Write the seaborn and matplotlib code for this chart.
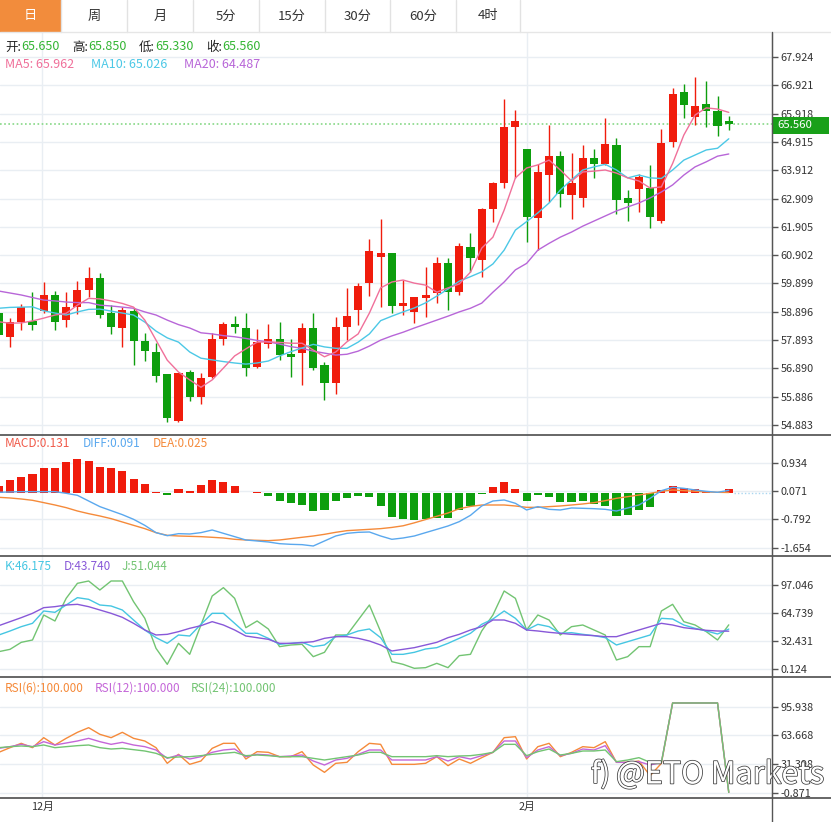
import numpy as np
import pandas as pd
import matplotlib.pyplot as plt
import matplotlib.patheffects as pe
from matplotlib.patches import Rectangle
import seaborn as sns

sns.set_style("white")
plt.rcParams['font.family'] = ['Noto Sans CJK SC', 'DejaVu Sans']

# ---- daily candles, oldest first (last one is the live bar) ----
opens = [58.85, 57.99, 58.54, 58.57, 58.92, 59.49, 58.60, 59.05, 59.67, 60.10,
         58.84, 58.33, 58.92, 57.87, 57.48, 56.68, 55.03, 56.75, 55.88, 56.59,
         57.92, 58.46, 58.33, 56.95, 57.75, 57.92, 57.39, 57.42, 58.33, 57.01,
         56.38, 58.34, 58.96, 59.90, 60.83, 60.97, 59.11, 58.90, 59.39, 59.55,
         60.63, 59.61, 61.18, 60.73, 62.53, 63.45, 65.43, 64.66, 62.21, 63.74,
         64.41, 63.03, 62.94, 64.35, 64.13, 64.81, 62.92, 63.23, 63.27, 62.12,
         64.90, 66.67, 65.81, 66.26, 66.01, 65.65]
highs = [58.90, 58.68, 59.16, 59.61, 59.94, 59.64, 59.61, 59.99, 60.49, 60.28,
         59.13, 59.05, 59.02, 58.15, 57.78, 56.70, 56.73, 56.83, 56.71, 58.13,
         58.54, 58.74, 58.86, 58.27, 58.46, 58.54, 57.92, 58.49, 58.86, 57.13,
         58.72, 59.73, 59.90, 61.46, 62.17, 60.99, 60.02, 59.43, 60.47, 60.85,
         60.79, 61.32, 61.68, 62.58, 63.50, 66.42, 66.05, 64.68, 64.12, 65.51,
         64.60, 64.51, 64.81, 64.66, 65.75, 65.04, 63.21, 63.78, 64.10, 65.36,
         66.81, 66.96, 67.20, 67.08, 66.54, 65.85]
lows = [58.00, 57.66, 58.25, 58.25, 58.84, 58.25, 58.34, 58.80, 59.43, 58.66,
        58.11, 57.66, 57.01, 57.15, 56.39, 54.98, 54.98, 55.73, 55.62, 56.55,
        57.72, 58.13, 56.63, 56.89, 57.60, 57.19, 56.59, 56.30, 56.83, 55.77,
        55.97, 57.89, 58.43, 59.45, 59.07, 58.84, 58.78, 58.49, 58.71, 59.19,
        58.96, 59.49, 60.31, 60.14, 62.09, 63.27, 63.63, 61.38, 61.08, 62.80,
        62.62, 62.17, 62.60, 63.63, 64.10, 62.36, 62.12, 62.44, 61.85, 62.03,
        64.72, 65.75, 65.51, 65.45, 65.12, 65.33]
closes = [58.07, 58.52, 59.05, 58.43, 59.49, 58.54, 59.07, 59.67, 60.10, 58.78,
          58.34, 58.96, 57.87, 57.50, 56.63, 55.12, 56.71, 55.88, 56.54, 57.92,
          58.46, 58.37, 56.89, 57.83, 57.92, 57.36, 57.30, 58.33, 56.89, 56.36,
          58.37, 58.74, 59.82, 61.06, 60.97, 59.11, 59.19, 59.41, 59.49, 60.63,
          59.61, 61.24, 60.79, 62.53, 63.45, 65.45, 65.67, 62.26, 63.84, 64.41,
          63.07, 63.45, 64.35, 64.13, 64.83, 62.86, 62.74, 63.68, 62.24, 64.89,
          66.60, 66.22, 66.20, 66.01, 65.48, 65.56]

ma5 = [58.54, 58.49, 58.50, 58.57, 58.67, 58.78, 58.84, 59.13, 59.37, 59.35,
       59.28, 59.19, 59.06, 58.60, 57.89, 57.18, 56.76, 56.48, 56.22, 56.48,
       56.90, 57.33, 57.58, 57.82, 57.83, 57.81, 57.78, 57.78, 57.54, 57.30,
       57.47, 57.83, 58.11, 58.85, 59.74, 59.95, 60.02, 59.91, 59.84, 59.59,
       59.74, 59.88, 60.30, 61.15, 61.54, 62.50, 63.64, 63.99, 64.10, 64.27,
       63.92, 63.53, 63.85, 63.88, 63.92, 63.81, 63.64, 63.53, 63.28, 63.32,
       64.15, 65.16, 65.87, 66.12, 66.08, 65.962]
ma10 = [59.02, 59.05, 59.06, 59.07, 58.93, 58.85, 58.78, 58.89, 58.98, 58.99,
        58.92, 58.85, 58.78, 58.53, 58.21, 57.97, 57.82, 57.47, 57.25, 57.19,
        57.13, 57.08, 57.04, 57.08, 57.15, 57.33, 57.48, 57.61, 57.74, 57.65,
        57.60, 57.60, 57.82, 58.11, 58.58, 58.74, 58.89, 59.03, 59.21, 59.45,
        59.70, 59.98, 60.14, 60.31, 60.59, 61.08, 61.79, 62.09, 62.40, 62.75,
        63.21, 63.57, 63.92, 64.03, 64.12, 63.92, 63.64, 63.74, 63.64, 63.62,
        63.92, 64.27, 64.45, 64.63, 64.69, 65.026]
ma20 = [59.63, 59.56, 59.49, 59.40, 59.31, 59.28, 59.24, 59.22, 59.22, 59.13,
        59.10, 59.06, 59.02, 58.89, 58.78, 58.60, 58.44, 58.32, 58.15, 58.11,
        58.05, 58.01, 57.95, 57.88, 57.83, 57.75, 57.66, 57.60, 57.50, 57.43,
        57.36, 57.39, 57.50, 57.68, 57.89, 58.04, 58.17, 58.32, 58.46, 58.60,
        58.74, 58.89, 59.02, 59.20, 59.59, 59.95, 60.38, 60.61, 61.08, 61.32,
        61.54, 61.72, 61.93, 62.11, 62.29, 62.47, 62.61, 62.75, 62.93, 63.14,
        63.39, 63.74, 64.03, 64.21, 64.41, 64.487]

# ---- MACD ----
macd_hist = [0.234, 0.407, 0.508, 0.579, 0.762, 0.762, 0.945, 1.037, 0.996, 0.813,
             0.762, 0.681, 0.437, 0.285, 0.051, -0.051, 0.122, 0.081, 0.254, 0.407,
             0.356, 0.224, 0.010, 0.051, -0.071, -0.234, -0.305, -0.356, -0.539, -0.508,
             -0.234, -0.152, -0.081, -0.102, -0.376, -0.732, -0.793, -0.813, -0.793, -0.762,
             -0.762, -0.508, -0.386, -0.020, 0.183, 0.336, 0.122, -0.224, -0.061, -0.102,
             -0.274, -0.254, -0.234, -0.325, -0.376, -0.691, -0.661, -0.508, -0.427, 0.102,
             0.224, 0.152, 0.132, 0.081, 0.020, 0.131]
diff = [0.031, 0.041, 0.051, 0.051, 0.051, 0.051, 0.000, -0.061, -0.234, -0.406,
        -0.528, -0.650, -0.793, -0.976, -1.199, -1.291, -1.230, -1.240, -1.199, -1.118,
        -1.220, -1.321, -1.423, -1.453, -1.484, -1.535, -1.555, -1.565, -1.606, -1.453,
        -1.301, -1.220, -1.189, -1.179, -1.301, -1.402, -1.362, -1.301, -1.199, -1.098,
        -0.996, -0.864, -0.671, -0.386, -0.234, -0.203, -0.305, -0.508, -0.406, -0.488,
        -0.508, -0.447, -0.457, -0.468, -0.488, -0.539, -0.447, -0.356, -0.152, 0.081,
        0.183, 0.152, 0.102, 0.061, 0.031, 0.091]
dea = [-0.122, -0.142, -0.173, -0.213, -0.284, -0.356, -0.437, -0.539, -0.620, -0.691,
       -0.772, -0.874, -0.976, -1.077, -1.199, -1.281, -1.301, -1.311, -1.321, -1.341,
       -1.362, -1.402, -1.423, -1.433, -1.443, -1.423, -1.382, -1.341, -1.301, -1.250,
       -1.189, -1.138, -1.118, -1.098, -1.077, -1.040, -0.990, -0.900, -0.800, -0.700,
       -0.600, -0.470, -0.400, -0.356, -0.356, -0.356, -0.386, -0.427, -0.427, -0.406,
       -0.386, -0.356, -0.325, -0.284, -0.224, -0.152, -0.102, -0.051, 0.000, 0.061,
       0.102, 0.081, 0.061, 0.041, 0.031, 0.025]

# ---- KDJ ----
k_line = [39.36, 43.97, 48.97, 52.82, 67.05, 65.51, 73.97, 82.43, 80.51, 73.97,
          72.82, 68.20, 56.66, 45.13, 36.28, 29.74, 39.36, 38.20, 51.66, 64.35,
          64.35, 52.82, 41.28, 41.28, 35.51, 28.59, 29.74, 30.89, 25.90, 27.82,
          37.43, 39.36, 43.97, 46.28, 36.28, 17.05, 17.05, 19.36, 23.20, 24.74,
          29.74, 35.51, 41.28, 51.66, 57.82, 67.05, 58.59, 45.13, 51.66, 48.97,
          41.28, 42.05, 40.12, 38.59, 36.28, 27.82, 31.66, 35.51, 39.36, 58.59,
          57.82, 50.89, 47.05, 43.97, 40.51, 46.175]
d_line = [50.12, 54.74, 59.36, 64.35, 70.89, 72.05, 73.97, 74.74, 72.05, 68.20,
          64.35, 59.74, 52.82, 45.13, 39.36, 40.12, 43.20, 47.05, 50.12, 54.74,
          50.89, 45.13, 38.20, 36.28, 34.36, 29.74, 29.74, 30.51, 31.66, 35.51,
          37.43, 37.43, 35.51, 32.43, 27.82, 20.90, 22.82, 24.74, 27.82, 30.89,
          36.28, 40.12, 45.13, 48.97, 56.66, 56.66, 52.82, 45.13, 43.97, 42.43,
          41.28, 40.12, 39.36, 38.59, 37.43, 37.43, 41.28, 45.13, 48.97, 52.82,
          50.89, 47.82, 46.28, 44.74, 43.97, 43.740]
j_line = [20.13, 22.82, 30.89, 33.59, 62.43, 55.51, 81.66, 98.97, 101.66, 91.28,
          101.66, 101.66, 77.82, 58.59, 23.97, 5.51, 29.74, 17.05, 50.89, 84.35,
          93.97, 81.66, 47.82, 55.51, 46.28, 25.90, 27.82, 28.59, 14.36, 19.36,
          39.36, 39.36, 56.66, 73.97, 43.20, 8.59, 5.51, 0.90, 1.67, 6.67,
          1.67, 15.51, 17.05, 43.97, 62.43, 90.12, 81.66, 45.13, 62.43, 56.66,
          39.36, 48.97, 50.89, 45.13, 39.36, 10.51, 14.36, 25.90, 25.90, 67.05,
          74.74, 54.74, 50.89, 43.20, 33.59, 51.044]

# ---- RSI ----
rsi6 = [44.52, 49.76, 54.64, 49.76, 61.01, 52.76, 60.26, 67.01, 72.25, 64.76,
        61.01, 67.01, 60.26, 57.26, 49.76, 32.15, 42.27, 31.02, 34.77, 49.01,
        54.64, 54.64, 37.02, 45.27, 44.52, 39.64, 39.64, 45.27, 30.27, 22.03,
        32.15, 33.27, 45.27, 54.64, 53.51, 31.02, 31.02, 31.02, 32.15, 39.64,
        29.52, 37.02, 32.15, 38.52, 44.52, 61.01, 62.13, 37.02, 50.89, 54.64,
        39.64, 44.52, 50.89, 49.76, 56.51, 33.27, 33.27, 34.77, 18.28, 32.15,
        100.0, 100.0, 100.0, 100.0, 100.0, -0.5]
rsi12 = [49.01, 50.89, 53.51, 50.89, 56.51, 52.76, 55.01, 57.26, 60.26, 56.51,
         53.51, 55.76, 52.76, 50.89, 47.14, 37.77, 41.52, 37.02, 39.64, 44.52,
         47.14, 48.26, 39.64, 42.27, 41.52, 39.64, 40.40, 41.52, 34.77, 30.27,
         35.90, 37.77, 42.27, 47.14, 47.14, 35.90, 35.90, 35.90, 35.90, 39.64,
         34.77, 39.64, 37.02, 40.77, 44.52, 57.26, 57.26, 38.52, 47.14, 50.89,
         40.77, 43.39, 48.26, 47.14, 52.01, 33.27, 33.27, 34.02, 30.27, 33.27,
         100.0, 100.0, 100.0, 100.0, 100.0, -0.5]
rsi24 = [49.76, 50.89, 51.64, 50.89, 52.76, 49.76, 50.89, 52.01, 52.76, 49.76,
         48.26, 49.01, 47.52, 46.02, 43.39, 38.52, 39.27, 39.64, 40.77, 42.27,
         43.39, 44.52, 40.77, 41.52, 40.77, 39.64, 39.64, 39.64, 37.77, 35.90,
         37.77, 39.64, 41.52, 44.52, 44.52, 39.64, 39.64, 39.64, 39.64, 40.77,
         39.64, 40.40, 40.77, 42.27, 44.52, 53.51, 53.51, 40.77, 45.27, 48.26,
         41.52, 43.39, 46.02, 46.02, 47.14, 34.02, 35.90, 38.52, 33.27, 33.27,
         100.0, 100.0, 100.0, 100.0, 100.0, -0.5]

price_ticks = [67.924, 66.921, 65.918, 64.915, 63.912, 62.909, 61.905,
               60.902, 59.899, 58.896, 57.893, 56.890, 55.886, 54.883]
macd_ticks = [0.934, 0.071, -0.792, -1.654]
kdj_ticks = [97.046, 64.739, 32.431, 0.124]
rsi_ticks = [95.938, 63.668, 31.398, -0.871]
month_pos = [3.85, 47.03]
month_labels = ["12月", "2月"]
tabs = ["日", "周", "月", "5分", "15分", "30分", "60分", "4时"]

# ---- colours ----
RED = "#f01c0c"
GREEN = "#0d9e0d"
GRID = "#e9eef3"
AXC = "#555555"
C_MA5, C_MA10, C_MA20 = "#f0709a", "#4cc8e6", "#b866d8"

df = pd.DataFrame({"idx": np.arange(len(closes)), "open": opens, "high": highs,
                   "low": lows, "close": closes, "ma5": ma5, "ma10": ma10, "ma20": ma20,
                   "hist": macd_hist, "diff": diff, "dea": dea,
                   "k": k_line, "d": d_line, "j": j_line,
                   "rsi6": rsi6, "rsi12": rsi12, "rsi24": rsi24})

W, H = 831, 822
X_RIGHT = 772
XLIM = (0.107, 68.85)

fig = plt.figure(figsize=(W / 100, H / 100), dpi=100)
fig.patch.set_facecolor("white")


def panel(top, bottom, ticks):
    ax = fig.add_axes([0, 1 - bottom / H, X_RIGHT / W, (bottom - top) / H])
    ax.set_facecolor("white")
    for t in ticks:
        ax.axhline(t, color=GRID, lw=1, zorder=0)
    for m in month_pos:
        ax.axvline(m, color=GRID, lw=1, zorder=0)
    return ax


def finish(ax, ylim, ticks):
    ax.set_xlim(XLIM)
    ax.set_ylim(ylim)
    ax.set_xlabel("")
    ax.set_ylabel("")
    ax.yaxis.tick_right()
    ax.set_yticks(ticks)
    ax.set_yticklabels([f"{t:.3f}" for t in ticks])
    ax.tick_params(axis="y", length=4, width=1, color=AXC, labelsize=7.8,
                   labelcolor="#333333", pad=2)
    ax.set_xticks([])
    for s in ["top", "left", "bottom"]:
        ax.spines[s].set_visible(False)
    ax.spines["right"].set_color(AXC)


# main candlestick panel
ax = panel(32, 435, price_ticks)
up = df["close"] >= df["open"]
cc = np.where(up, RED, GREEN)
ax.vlines(df["idx"], df["low"], df["high"], colors=cc, lw=1, zorder=2)
body_lo = np.minimum(df["open"], df["close"])
body_h = np.maximum((df["close"] - df["open"]).abs(), 0.05)
ax.bar(df["idx"], body_h, bottom=body_lo, width=0.72, color=cc, linewidth=0, zorder=3)
ax.axhline(closes[-1], color="#86d886", ls=(0, (1, 1.5)), lw=1.2, zorder=1)
for col, c in [("ma20", C_MA20), ("ma10", C_MA10), ("ma5", C_MA5)]:
    sns.lineplot(data=df, x="idx", y=col, ax=ax, color=c, lw=1, legend=False, zorder=4)
finish(ax, (54.528, 68.81), price_ticks)

# MACD panel
ax2 = panel(435, 556, macd_ticks)
hc = np.where(df["hist"] >= 0, RED, GREEN)
ax2.bar(df["idx"], df["hist"], width=0.72, color=hc, linewidth=0, zorder=2)
sns.lineplot(data=df, x="idx", y="dea", ax=ax2, color="#f58a3a", lw=1, legend=False, zorder=3)
sns.lineplot(data=df, x="idx", y="diff", ax=ax2, color="#5aa8ee", lw=1, legend=False, zorder=3)
ax2.plot([df["idx"].iloc[-1] + 0.5, XLIM[1]], [0.0, 0.0], ls=(0, (1, 1.5)),
         color="#a9d6f0", lw=1)
finish(ax2, (-1.911, 1.778), macd_ticks)

# KDJ panel
ax3 = panel(556, 677, kdj_ticks)
sns.lineplot(data=df, x="idx", y="j", ax=ax3, color="#72c472", lw=1, legend=False)
sns.lineplot(data=df, x="idx", y="k", ax=ax3, color="#45c6e2", lw=1, legend=False)
sns.lineplot(data=df, x="idx", y="d", ax=ax3, color="#8858d8", lw=1, legend=False)
finish(ax3, (-9.11, 130.5), kdj_ticks)

# RSI panel
ax4 = panel(677, 798, rsi_ticks)
sns.lineplot(data=df, x="idx", y="rsi6", ax=ax4, color="#f58a3a", lw=1, legend=False)
sns.lineplot(data=df, x="idx", y="rsi12", ax=ax4, color="#c466d8", lw=1, legend=False)
sns.lineplot(data=df, x="idx", y="rsi24", ax=ax4, color="#72c472", lw=1, legend=False)
finish(ax4, (-6.83, 129.22), rsi_ticks)
ax4.set_xticks(month_pos)
ax4.set_xticklabels(month_labels)
ax4.tick_params(axis="x", length=0, labelsize=7.8, labelcolor="#333333", pad=3)

# watermark: hollow letters, above the lines but under the tick labels
hollow = [pe.withStroke(linewidth=1.1, foreground="#3c3c3c")]
ax4.text(591 / W, 1 - 775 / H, "f)", transform=fig.transFigure, ha="left", va="center",
         fontsize=21, color="white", fontweight="light", fontstyle="italic",
         path_effects=hollow, zorder=2.3, clip_on=False)
ax4.text(616 / W, 1 - 775 / H, "@ETO Markets", transform=fig.transFigure, ha="left",
         va="center", fontsize=22, color="white", fontweight="light",
         path_effects=hollow, zorder=2.3, clip_on=False)

# ---- overlay in pixel coordinates ----
ov = fig.add_axes([0, 0, 1, 1], zorder=10)
ov.set_xlim(0, W)
ov.set_ylim(H, 0)
ov.axis("off")
ov.patch.set_alpha(0)

# tab bar
edges = [0, 61, 127, 193, 259, 325, 390, 456, 520]
ov.add_patch(Rectangle((0, 0), edges[1], 32, facecolor="#f28c3c", edgecolor="none"))
for e in edges[1:]:
    ov.plot([e, e], [0, 32], color="#e2e2e2", lw=1)
ov.plot([0, W], [32, 32], color="#e6e6e6", lw=1)
for i, t in enumerate(tabs):
    ov.text((edges[i] + edges[i + 1]) / 2, 16, t, ha="center", va="center", fontsize=9.5,
            color="white" if i == 0 else "#333333")

# panel borders and right axis
for y in [435, 556, 677, 798]:
    ov.plot([0, W], [y, y], color="#5a5a5a", lw=1.3)
ov.plot([X_RIGHT, X_RIGHT], [32, H], color=AXC, lw=1)

# live price tag
ov.add_patch(Rectangle((773, 117), 56, 17, facecolor="#19a019", edgecolor="none"))
ov.text(777, 125.5, f"{closes[-1]:.3f}", ha="left", va="center", fontsize=8.2, color="white")

# headers
HF = 9
VAL = "#33b533"
for x, lab, val in [(5, "开:", opens[-1]), (72, "高:", highs[-1]),
                    (139, "低:", lows[-1]), (206, "收:", closes[-1])]:
    ov.text(x, 47, lab, ha="left", va="center", fontsize=HF, color="#222222")
    ov.text(x + 16, 47, f"{val:.3f}", ha="left", va="center", fontsize=HF, color=VAL)
ov.text(5, 64, f"MA5: {ma5[-1]:.3f}", ha="left", va="center", fontsize=HF, color=C_MA5)
ov.text(91, 64, f"MA10: {ma10[-1]:.3f}", ha="left", va="center", fontsize=HF, color=C_MA10)
ov.text(184, 64, f"MA20: {ma20[-1]:.3f}", ha="left", va="center", fontsize=HF, color=C_MA20)

ov.text(5, 443, f"MACD:{macd_hist[-1]:.3f}", ha="left", va="center", fontsize=8.5, color="#f05a4a")
ov.text(83, 443, f"DIFF:{diff[-1]:.3f}", ha="left", va="center", fontsize=8.5, color="#5aa8ee")
ov.text(153, 443, f"DEA:{dea[-1]:.3f}", ha="left", va="center", fontsize=8.5, color="#f58a3a")

ov.text(5, 566, f"K:{k_line[-1]:.3f}", ha="left", va="center", fontsize=8.5, color="#45c6e2")
ov.text(64, 566, f"D:{d_line[-1]:.3f}", ha="left", va="center", fontsize=8.5, color="#8858d8")
ov.text(122, 566, f"J:{j_line[-1]:.3f}", ha="left", va="center", fontsize=8.5, color="#72c472")

ov.text(5, 688, "RSI(6):100.000", ha="left", va="center", fontsize=8.5, color="#f58a3a")
ov.text(95, 688, "RSI(12):100.000", ha="left", va="center", fontsize=8.5, color="#c466d8")
ov.text(191, 688, "RSI(24):100.000", ha="left", va="center", fontsize=8.5, color="#72c472")

fig.savefig("out.png", dpi=100, facecolor="white")
plt.close(fig)
